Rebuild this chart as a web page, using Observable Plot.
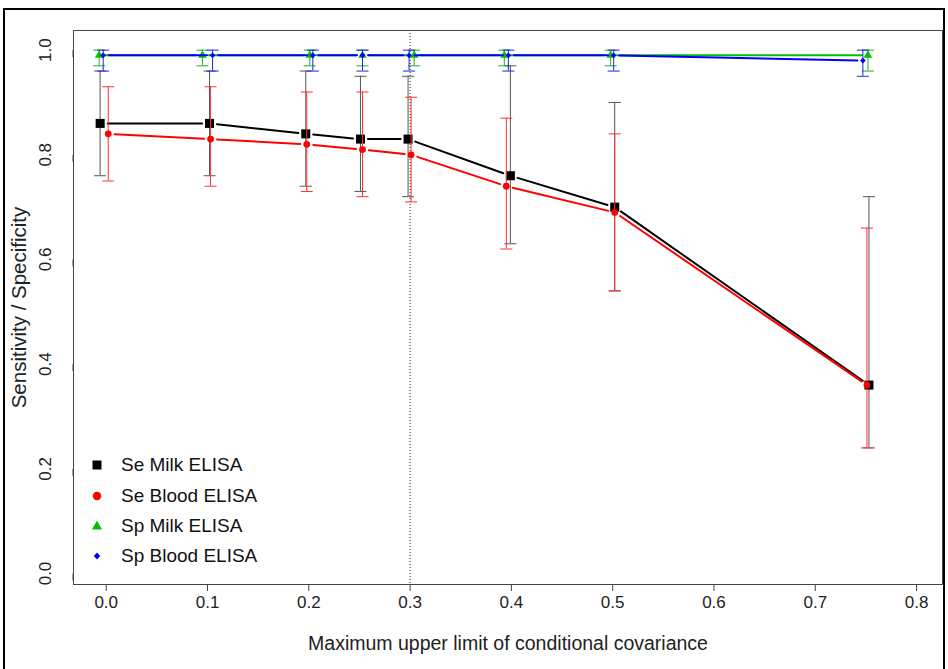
<!DOCTYPE html>
<html>
<head>
<meta charset="utf-8">
<script src="https://cdn.jsdelivr.net/npm/d3@7"></script>
<script src="https://cdn.jsdelivr.net/npm/@observablehq/plot@0.6"></script>
<style>
  body { margin: 0; background: #fff; }
  #wrap { position: relative; width: 948px; height: 669px; overflow: hidden; background: #fff;
          font-family: "Liberation Sans", Arial, sans-serif; }
  #border { position: absolute; left: 3px; top: 8px; width: 942px; height: 700px;
            border: 2px solid #000; box-sizing: border-box; pointer-events: none; }
  .lg { position: absolute; left: 88px; height: 30px; line-height: 30px; font-size: 19px; color: #111; white-space: nowrap; }
  .lg svg { position: absolute; left: 0; top: 7px; }
  .lg span { position: absolute; left: 33px; top: 0; }
</style>
</head>
<body>
<div id="wrap"><div id="chart"></div><div id="border"></div></div>
<script>
// ---- data ----
const covLimits = [0, 0.1, 0.2, 0.25, 0.3, 0.4, 0.5, 0.75];   // nominal categories

// plotted x positions (slightly jittered in the original)
const xSeMilk  = [-0.006, 0.102, 0.197, 0.251, 0.298, 0.399, 0.502, 0.753];
const xSeBlood = [ 0.002, 0.103, 0.198, 0.253, 0.301, 0.395, 0.502, 0.751];
const xSpMilk  = [-0.007, 0.095, 0.201, 0.253, 0.304, 0.393, 0.498, 0.752];
const xSpBlood = [-0.003, 0.105, 0.204, 0.253, 0.299, 0.397, 0.501, 0.747];

const seMilk    = [0.86, 0.86, 0.84, 0.83, 0.83, 0.76, 0.70, 0.36];
const seMilkLo  = [0.76, 0.76, 0.74, 0.73, 0.72, 0.63, 0.54, 0.24];
const seMilkHi  = [0.96, 0.96, 0.96, 0.95, 0.95, 0.97, 0.90, 0.72];

const seBlood   = [0.84, 0.83, 0.82, 0.81, 0.80, 0.74, 0.69, 0.36];
const seBloodLo = [0.75, 0.74, 0.73, 0.72, 0.71, 0.62, 0.54, 0.24];
const seBloodHi = [0.93, 0.93, 0.92, 0.92, 0.91, 0.87, 0.84, 0.66];

const spMilk    = [0.99, 0.99, 0.99, 0.99, 0.99, 0.99, 0.99, 0.99];
const spMilkLo  = [0.97, 0.97, 0.97, 0.97, 0.97, 0.97, 0.97, 0.96];
const spMilkHi  = [1.00, 1.00, 1.00, 1.00, 1.00, 1.00, 1.00, 1.00];

const spBlood   = [0.99, 0.99, 0.99, 0.99, 0.99, 0.99, 0.99, 0.98];
const spBloodLo = [0.96, 0.96, 0.96, 0.96, 0.96, 0.96, 0.96, 0.95];
const spBloodHi = [1.00, 1.00, 1.00, 1.00, 1.00, 1.00, 1.00, 1.00];

const seriesNames = ["Se Milk ELISA", "Se Blood ELISA", "Sp Milk ELISA", "Sp Blood ELISA"];
const xTicks = [0, 0.1, 0.2, 0.3, 0.4, 0.5, 0.6, 0.7, 0.8];
const yTicks = [0, 0.2, 0.4, 0.6, 0.8, 1.0];
const cutoff = [0.3];
const xTitle = "Maximum upper limit of conditional covariance";
const yTitle = "Sensitivity / Specificity";

// ---- styles ----
const styles = {
  "Se Milk ELISA":  {line: "#000", bar: "#555", fill: "#000", symbol: "square", r: 5.1, inset: 7.5},
  "Se Blood ELISA": {line: "#f00", bar: "#ff3030", fill: "#f00", symbol: "circle", r: 3.4, inset: 6.5},
  "Sp Milk ELISA":  {line: "#00c000", bar: "#20b020", fill: "#00c000", symbol: "triangle", r: 3.2, inset: 6},
  "Sp Blood ELISA": {line: "#0000ff", bar: "#2020e0", fill: "#0000ff", symbol: "diamond2", r: 2.6, inset: 5.5}
};

const seriesData = [
  [xSeMilk, seMilk, seMilkLo, seMilkHi],
  [xSeBlood, seBlood, seBloodLo, seBloodHi],
  [xSpMilk, spMilk, spMilkLo, spMilkHi],
  [xSpBlood, spBlood, spBloodLo, spBloodHi]
];

const cap = { draw(ctx, size) { const w = Math.sqrt(size / Math.PI); ctx.moveTo(-w, 0); ctx.lineTo(w, 0); } };

const marks = [
  Plot.ruleX(cutoff, {stroke: "#222", strokeWidth: 1, strokeDasharray: "1,2"})
];

seriesNames.forEach((name, si) => {
  const [xs, ys, lo, hi] = seriesData[si];
  const st = styles[name];
  const pts = covLimits.map((c, i) => ({cov: c, x: xs[i], y: ys[i], lo: lo[i], hi: hi[i]}));
  const segs = pts.slice(1).map((p, i) => ({x1: pts[i].x, y1: pts[i].y, x2: p.x, y2: p.y}));
  marks.push(
    Plot.arrow(segs, {x1: "x1", y1: "y1", x2: "x2", y2: "y2", stroke: st.line, strokeWidth: 2,
                      headLength: 0, insetStart: st.inset, insetEnd: st.inset}),
    Plot.ruleX(pts, {x: "x", y1: "lo", y2: "hi", stroke: st.bar, strokeWidth: 1}),
    Plot.dot(pts, {x: "x", y: "lo", symbol: cap, r: 6, stroke: st.bar, fill: "none", strokeWidth: 1}),
    Plot.dot(pts, {x: "x", y: "hi", symbol: cap, r: 6, stroke: st.bar, fill: "none", strokeWidth: 1}),
    Plot.dot(pts, {x: "x", y: "y", symbol: st.symbol, r: st.r, fill: st.fill, stroke: "none"})
  );
});

marks.push(
  Plot.frame({stroke: "#444", strokeWidth: 1}),
  Plot.axisX({ticks: xTicks, tickFormat: d3.format(".1f"), tickSize: 7, tickPadding: 4, fontSize: 17,
              label: null, stroke: "#444"}),
  Plot.axisX({ticks: [], label: xTitle, labelAnchor: "center", labelArrow: "none", labelOffset: 65, fontSize: 19.5}),
  Plot.axisY({ticks: yTicks, tickFormat: d3.format(".1f"), tickSize: 7, tickPadding: 21, fontSize: 17,
              rotate: -90, textAnchor: "middle", label: null, stroke: "#444"}),
  Plot.axisY({ticks: [], label: yTitle, labelAnchor: "center", labelArrow: "none", labelOffset: 62, fontSize: 20.5})
);

const chart = Plot.plot({
  width: 948,
  height: 669,
  marginLeft: 73,
  marginRight: 6,
  marginTop: 30,
  marginBottom: 85,
  x: {domain: [-0.0323, 0.8256]},
  y: {domain: [-0.021, 1.0375]},
  style: {fontSize: "17px", fontFamily: "'Liberation Sans', Arial, sans-serif", color: "#222", background: "transparent"},
  marks
});
document.getElementById("chart").appendChild(chart);

// ---- legend ----
const wrap = document.getElementById("wrap");
const legendTop = [450, 481, 511, 541];
const legendSym = {
  "Se Milk ELISA":  '<rect x="4.5" y="3.5" width="9" height="9" fill="#000"/>',
  "Se Blood ELISA": '<circle cx="9" cy="8" r="4.2" fill="#f00"/>',
  "Sp Milk ELISA":  '<polygon points="9,2.5 14,11.5 4,11.5" fill="#00c000"/>',
  "Sp Blood ELISA": '<polygon points="9,4.5 12.2,8 9,11.5 5.8,8" fill="#0000ff"/>'
};
seriesNames.forEach((name, i) => {
  const d = document.createElement("div");
  d.className = "lg";
  d.style.top = legendTop[i] + "px";
  d.innerHTML = `<svg width="18" height="16">${legendSym[name]}</svg><span>${name}</span>`;
  wrap.appendChild(d);
});
</script>
</body>
</html>
